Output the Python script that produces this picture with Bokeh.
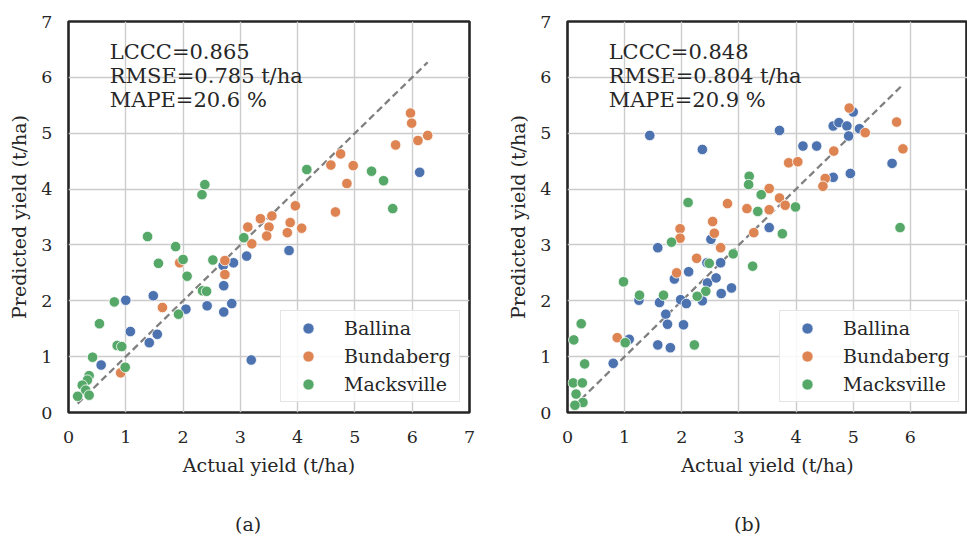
from bokeh.plotting import figure
from bokeh.layouts import row, column
from bokeh.models import Range1d, FixedTicker, Label, Legend, LegendItem, Div
from bokeh.embed import file_html
from bokeh.resources import INLINE

# ---------------- data ----------------
sites = ["Ballina", "Bundaberg", "Macksville"]
ticks = [0, 1, 2, 3, 4, 5, 6, 7]

ballina_a_x = [1.00, 1.48, 1.08, 1.55, 1.41, 0.57, 2.05, 2.42, 2.71, 2.85, 2.71, 2.70, 2.88, 3.11, 3.85, 3.19, 6.13]
ballina_a_y = [2.01, 2.09, 1.45, 1.40, 1.25, 0.85, 1.85, 1.91, 1.80, 1.95, 2.27, 2.63, 2.68, 2.80, 2.90, 0.94, 4.30]
bundaberg_a_x = [0.91, 1.64, 1.94, 2.73, 2.73, 3.13, 3.20, 3.35, 3.55, 3.50, 3.46, 3.87, 3.82, 4.07, 3.96, 4.66,
                 5.97, 5.99, 6.27, 6.10, 5.71, 4.75, 4.58, 4.97, 4.86]
bundaberg_a_y = [0.71, 1.88, 2.68, 2.72, 2.47, 3.32, 3.02, 3.47, 3.52, 3.32, 3.16, 3.40, 3.22, 3.30, 3.70, 3.59,
                 5.36, 5.18, 4.96, 4.87, 4.79, 4.63, 4.43, 4.42, 4.10]
macksville_a_x = [2.38, 2.33, 4.16, 5.29, 5.50, 5.66, 1.38, 1.87, 1.57, 2.00, 2.07, 2.52, 3.06, 2.34, 2.41, 1.92,
                  0.80, 0.54, 0.85, 0.93, 0.99, 0.42, 0.36, 0.33, 0.24, 0.30, 0.36, 0.16]
macksville_a_y = [4.08, 3.90, 4.35, 4.32, 4.15, 3.65, 3.15, 2.97, 2.67, 2.74, 2.44, 2.73, 3.13, 2.18, 2.17, 1.76,
                  1.98, 1.59, 1.20, 1.18, 0.81, 0.99, 0.66, 0.58, 0.49, 0.40, 0.31, 0.29]

ballina_b_x = [1.44, 2.36, 3.71, 4.12, 4.36, 4.65, 4.75, 4.89, 5.00, 4.92, 5.11, 4.95, 5.68, 4.65, 3.53, 1.58,
               2.51, 2.44, 2.68, 2.12, 1.87, 2.45, 2.60, 2.87, 2.69, 1.25, 1.61, 1.98, 2.08, 2.36, 1.72, 1.75,
               2.03, 1.08, 1.58, 1.80, 0.80]
ballina_b_y = [4.96, 4.71, 5.05, 4.77, 4.77, 5.13, 5.19, 5.13, 5.38, 4.95, 5.08, 4.28, 4.46, 4.21, 3.31, 2.95,
               3.10, 2.68, 2.68, 2.52, 2.39, 2.32, 2.41, 2.23, 2.13, 2.01, 1.97, 2.02, 1.95, 2.00, 1.76, 1.58,
               1.57, 1.31, 1.21, 1.16, 0.88]
bundaberg_b_x = [4.93, 5.76, 5.21, 5.87, 4.66, 3.87, 4.03, 4.51, 4.47, 3.53, 2.80, 3.14, 3.53, 3.71, 3.81, 2.54,
                 1.97, 1.97, 2.57, 3.26, 2.68, 2.26, 1.91, 0.87]
bundaberg_b_y = [5.45, 5.20, 5.01, 4.72, 4.68, 4.47, 4.49, 4.19, 4.05, 4.01, 3.74, 3.65, 3.63, 3.84, 3.71, 3.42,
                 3.29, 3.12, 3.21, 3.22, 2.95, 2.76, 2.50, 1.34]
macksville_b_x = [3.18, 3.17, 3.39, 2.11, 3.33, 3.99, 3.76, 5.82, 1.82, 2.90, 3.24, 2.48, 0.98, 1.26, 1.68, 2.42,
                  2.27, 0.24, 0.11, 1.01, 2.22, 0.30, 0.10, 0.26, 0.15, 0.27, 0.13]
macksville_b_y = [4.23, 4.08, 3.90, 3.76, 3.60, 3.68, 3.20, 3.31, 3.05, 2.84, 2.62, 2.67, 2.34, 2.10, 2.10, 2.17,
                  2.08, 1.59, 1.30, 1.25, 1.21, 0.87, 0.53, 0.53, 0.33, 0.18, 0.13]

stats_a = ["LCCC=0.865", "RMSE=0.785 t/ha", "MAPE=20.6 %"]
stats_b = ["LCCC=0.848", "RMSE=0.804 t/ha", "MAPE=20.9 %"]
captions = ["(a)", "(b)"]

colors = ["#4C72B0", "#DD8452", "#55A868"]
FONT = "DejaVu Serif"
TXT = "#262626"


def make_panel(series, stats, width, border_right, xticks):
    p = figure(width=width, height=512, output_backend="svg", toolbar_location=None,
               x_range=Range1d(0, 7), y_range=Range1d(0, 7),
               min_border_left=68, min_border_right=border_right,
               min_border_top=21, min_border_bottom=100)
    p.extra_x_ranges = {"legend_only": Range1d(100, 101)}
    p.background_fill_color = "white"
    p.border_fill_color = "white"
    p.outline_line_color = "#262626"
    p.outline_line_width = 2.6

    for ax, tk in ((p.xaxis[0], xticks), (p.yaxis[0], ticks)):
        ax.ticker = FixedTicker(ticks=tk)
        ax.axis_line_color = None
        ax.major_tick_line_color = None
        ax.minor_tick_line_color = None
        ax.major_tick_out = 0
        ax.major_tick_in = 0
        ax.major_label_text_font = FONT
        ax.major_label_text_font_size = "17.5px"
        ax.major_label_text_color = TXT
        ax.axis_label_text_font = FONT
        ax.axis_label_text_font_size = "19px"
        ax.axis_label_text_font_style = "normal"
        ax.axis_label_text_color = TXT
    p.xaxis.axis_label = "Actual yield (t/ha)"
    p.yaxis.axis_label = "Predicted yield (t/ha)"
    p.xaxis.major_label_standoff = 18
    p.xaxis.axis_label_standoff = 8
    p.yaxis.major_label_standoff = 16
    p.yaxis.axis_label_standoff = 8

    p.xgrid.ticker = FixedTicker(ticks=ticks)
    p.grid.grid_line_color = "#cccccc"
    p.grid.grid_line_width = 1.4

    # 1:1 line spanning observed range
    allx = [v for s in series for v in s[0]]
    lo, hi = min(allx), max(allx)
    p.line([lo, hi], [lo, hi], line_color="#808080", line_width=2.3, line_dash="7 4")

    items = []
    for (xs, ys), name, c in zip(series, sites, colors):
        p.scatter(xs, ys, size=10.5, fill_color=c, line_color="white", line_width=0.8)
    # legend-only renderers (mapped outside the visible frame)
    for (xs, ys), name, c in zip(series, sites, colors):
        r = p.scatter(xs[:1], ys[:1], size=13, fill_color=c, line_color="white", line_width=0.8,
                      x_range_name="legend_only")
        items.append(LegendItem(label=name, renderers=[r]))

    leg = Legend(items=items, location=(212, 10))
    leg.label_text_font = FONT
    leg.label_text_font_size = "19px"
    leg.label_text_color = TXT
    leg.border_line_color = "#cccccc"
    leg.border_line_width = 1.2
    leg.background_fill_color = "white"
    leg.background_fill_alpha = 0.85
    leg.padding = 3
    leg.spacing = 0
    leg.glyph_height = 28
    leg.glyph_width = 48
    leg.label_height = 28
    leg.label_width = 112
    leg.label_standoff = 12
    leg.margin = 0
    p.add_layout(leg)

    base = [6.46, 6.02, 5.59]
    for t, yy in zip(stats, base):
        p.add_layout(Label(x=0.72, y=yy, text=t, text_font=FONT, text_font_size="21px",
                           text_color=TXT, text_baseline="alphabetic", text_align="left"))
    return p


def make_caption(text, width):
    return Div(text=text, width=width, height=24, margin=(0, 0, 0, 0),
               styles={"font-family": FONT, "font-size": "19px", "color": TXT,
                       "line-height": "24px", "text-align": "left", "text-indent": "235px",
                       "white-space": "nowrap", "overflow": "hidden"})


p1 = make_panel([(ballina_a_x, ballina_a_y), (bundaberg_a_x, bundaberg_a_y), (macksville_a_x, macksville_a_y)],
                stats_a, 499, 30, ticks)
p2 = make_panel([(ballina_b_x, ballina_b_y), (bundaberg_b_x, bundaberg_b_y), (macksville_b_x, macksville_b_y)],
                stats_b, 468, 0, ticks[:-1])

layout = column(row(p1, p2), row(make_caption(captions[0], 499), make_caption(captions[1], 468)))
open("out.html", "w").write(file_html(layout, INLINE))
